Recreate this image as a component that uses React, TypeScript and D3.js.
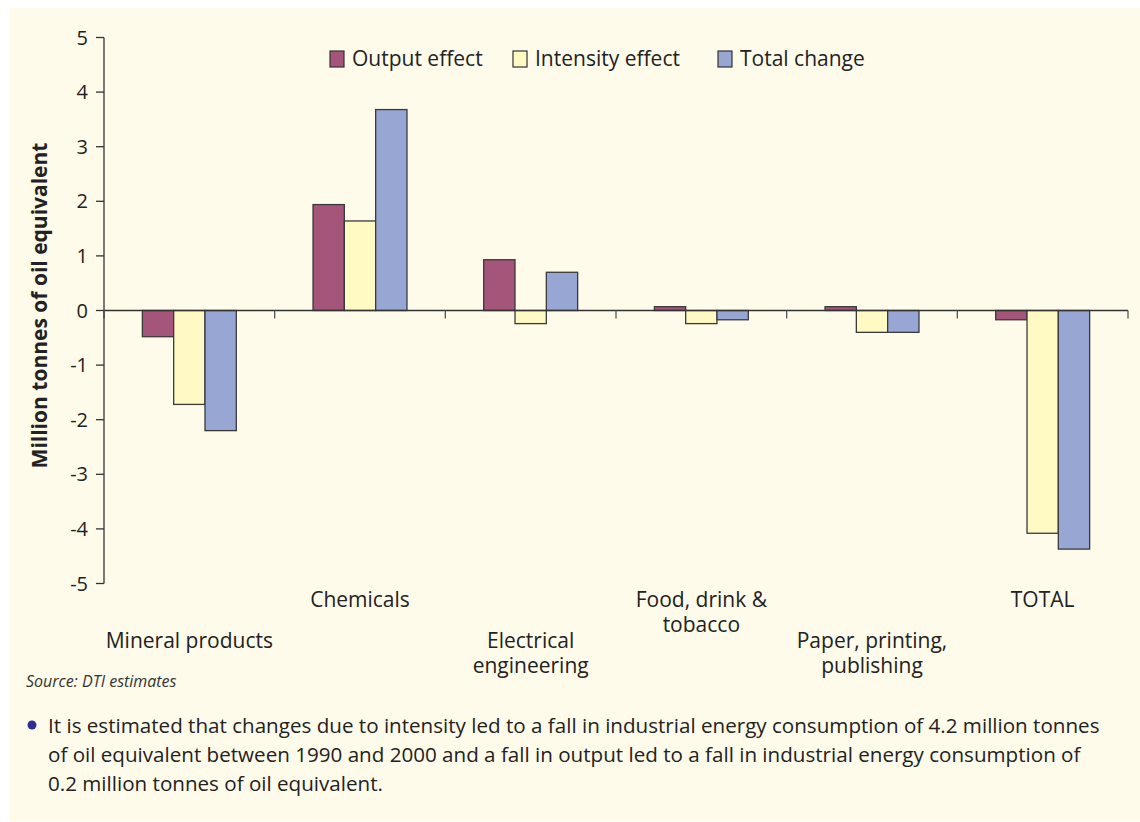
import React from "react";
import * as d3 from "d3";

const categories = ["Mineral products", "Chemicals", "Electrical engineering", "Food, drink & tobacco", "Paper, printing, publishing", "TOTAL"];
const categoryLines = [["Mineral products"], ["Chemicals"], ["Electrical", "engineering"], ["Food, drink &", "tobacco"], ["Paper, printing,", "publishing"], ["TOTAL"]];
const seriesNames = ["Output effect", "Intensity effect", "Total change"];
const outputEffect = [-0.48, 1.94, 0.93, 0.07, 0.07, -0.17];
const intensityEffect = [-1.72, 1.64, -0.24, -0.24, -0.4, -4.08];
const totalChange = [-2.2, 3.68, 0.7, -0.17, -0.4, -4.37];
const yTicks = [5, 4, 3, 2, 1, 0, -1, -2, -3, -4, -5];
const seriesColors = ["#A5547A", "#FFF9C4", "#98A6D4"];
const yLabel = "Million tonnes of oil equivalent";
const sourceText = "Source: DTI estimates";
const noteLines = [
  "It is estimated that changes due to intensity led to a fall in industrial energy consumption of 4.2 million tonnes",
  "of oil equivalent between 1990 and 2000 and a fall in output led to a fall in industrial energy consumption of",
  "0.2 million tonnes of oil equivalent.",
];

const FONT = "'Open Sans', 'Noto Sans', sans-serif";

export default function App() {
  const W = 1140, H = 822;
  const seriesValues = [outputEffect, intensityEffect, totalChange];
  const y = d3.scaleLinear().domain([-5, 5]).range([583.5, 37.5]);
  const x0 = d3.scaleBand<string>().domain(categories).range([104, 1128]).padding(0);
  const x1 = d3.scaleBand<string>().domain(seriesNames).range([0, x0.bandwidth()]).paddingInner(0).paddingOuter(1.225);
  const y0 = y(0);
  const step = x0.step();
  const boundaries = d3.range(categories.length + 1).map((i) => 104 + i * step);
  const legendX = [330, 513, 718];

  return (
    <svg width={W} height={H} style={{ position: "absolute", left: 0, top: 0, display: "block" }} fontFamily={FONT}>
      <rect x={0} y={0} width={W} height={H} fill="#ffffff" />
      <rect x={10} y={8} width={W - 10} height={813} fill="#FEFBEA" />

      {/* bars */}
      {categories.map((c, ci) => (
        <g key={c}>
          {seriesNames.map((s, si) => {
            const v = seriesValues[si][ci];
            const yy = y(Math.max(0, v));
            const hh = Math.abs(y(v) - y0);
            return (
              <rect key={s} x={(x0(c) as number) + (x1(s) as number)} y={yy} width={x1.bandwidth()} height={hh}
                fill={seriesColors[si]} stroke="#3a3a3a" strokeWidth={1.3} />
            );
          })}
        </g>
      ))}

      {/* y axis */}
      <line x1={104} x2={104} y1={y(5)} y2={y(-5)} stroke="#333" strokeWidth={1.3} />
      {yTicks.map((t) => (
        <g key={t}>
          <line x1={96} x2={104} y1={y(t)} y2={y(t)} stroke="#333" strokeWidth={1.3} />
          <text x={88} y={y(t)} dy="0.35em" textAnchor="end" fontSize={20} fill="#222">{t}</text>
        </g>
      ))}

      {/* x axis at zero */}
      <line x1={104} x2={1128} y1={y0} y2={y0} stroke="#333" strokeWidth={1.3} />
      {boundaries.map((bx, i) => (
        <line key={i} x1={bx} x2={bx} y1={y0} y2={y0 + 8} stroke="#555" strokeWidth={i === 0 ? 2 : 1.3} />
      ))}

      {/* category labels */}
      {categories.map((c, ci) => {
        const cx = (x0(c) as number) + x0.bandwidth() / 2;
        const base = ci % 2 === 0 ? 648 : 607;
        return (
          <text key={c} x={cx} y={base} textAnchor="middle" fontSize={21} fill="#222">
            {categoryLines[ci].map((ln, li) => (
              <tspan key={li} x={cx} y={base + li * 25}>{ln}</tspan>
            ))}
          </text>
        );
      })}

      {/* y axis label */}
      <text transform={`translate(47, 305.5) rotate(-90)`} textAnchor="middle" fontSize={21} fontWeight="bold" fill="#222">
        {yLabel}
      </text>

      {/* legend */}
      {seriesNames.map((s, si) => (
        <g key={s}>
          <rect x={legendX[si]} y={51} width={14} height={16} fill={seriesColors[si]} stroke="#333" strokeWidth={1.2} />
          <text x={legendX[si] + 22} y={66} fontSize={21} fill="#222">{s}</text>
        </g>
      ))}

      {/* source */}
      <text x={26} y={687} fontSize={16} fontStyle="italic" fill="#333">{sourceText}</text>

      {/* note */}
      <circle cx={32} cy={725} r={4.5} fill="#2E3192" />
      {noteLines.map((ln, i) => (
        <text key={i} x={48} y={733 + i * 29} fontSize={20.6} fill="#222">{ln}</text>
      ))}
    </svg>
  );
}
